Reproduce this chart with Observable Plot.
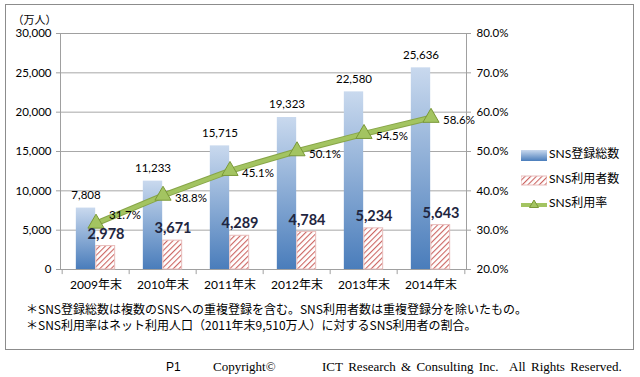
<!DOCTYPE html>
<html><head><meta charset="utf-8">
<script src="https://cdn.jsdelivr.net/npm/d3@7"></script>
<script src="https://cdn.jsdelivr.net/npm/@observablehq/plot@0.6"></script>
<style>
body{margin:0;background:#fff;}
#wrap{position:relative;width:640px;height:377px;overflow:hidden;font-family:Lato,"Noto Sans CJK JP",sans-serif;}
#wrap svg.plot{position:absolute;left:0;top:0;}
.abs{position:absolute;white-space:nowrap;}
#box{position:absolute;left:5px;top:4px;width:629px;height:346px;border:1px solid #8c8c8c;box-sizing:border-box;}
.foot{font-family:"Noto Sans CJK JP",sans-serif;font-size:12px;color:#000;}
.leg{font-family:Lato,"Noto Sans CJK JP",sans-serif;font-size:12px;color:#000;}
</style></head>
<body><div id="wrap"><div id="box"></div></div>
<script>
const years = ["2009年末","2010年末","2011年末","2012年末","2013年末","2014年末"];
const registered = [7808, 11233, 15715, 19323, 22580, 25636];
const users = [2978, 3671, 4289, 4784, 5234, 5643];
const rate = [31.7, 38.8, 45.1, 50.1, 54.5, 58.6];
const leftTicks = [0, 5000, 10000, 15000, 20000, 25000, 30000];
const rightTicks = [20, 30, 40, 50, 60, 70, 80];
const seriesNames = ["SNS登録総数", "SNS利用者数", "SNS利用率"];
const unitLabel = "（万人）";
const notes = ["＊SNS登録総数は複数のSNSへの重複登録を含む。SNS利用者数は重複登録分を除いたもの。",
               "＊SNS利用率はネット利用人口（2011年末9,510万人）に対するSNS利用者の割合。"];

const data = years.map((year, i) => ({year, registered: registered[i], users: users[i], rate: rate[i]}));
const pct = p => (p - 20) * 500;  // map right axis (20%–80%) onto left (0–30,000)
const fmt = d3.format(",");
const bw = 406 / 6;

function defs() {
  const ns = "http://www.w3.org/2000/svg";
  const g = document.createElementNS(ns, "defs");
  g.innerHTML = `
    <linearGradient id="blueGrad" x1="0" y1="0" x2="0" y2="1">
      <stop offset="0" stop-color="#c9d9ee"/>
      <stop offset="1" stop-color="#4a7dbb"/>
    </linearGradient>
    <pattern id="hatch" width="4" height="4" patternUnits="userSpaceOnUse" patternTransform="rotate(45)">
      <rect width="4" height="4" fill="#fff"/>
      <line x1="0" y1="0" x2="0" y2="4" stroke="#cc6663" stroke-width="2.2"/>
    </pattern>`;
  return g;
}

const chart = Plot.plot({
  width: 640, height: 377,
  marginLeft: 60, marginRight: 174, marginTop: 33, marginBottom: 108,
  style: {fontFamily: 'Lato, "Noto Sans CJK JP", sans-serif', fontSize: "11.5px", color: "#000", background: "transparent"},
  x: {domain: years, padding: 0, axis: null},
  y: {domain: [0, 30000], axis: null},
  marks: [
    defs,
    Plot.gridY(leftTicks, {stroke: "#a8a8a8", strokeOpacity: 1}),
    Plot.frame({stroke: "#a0a0a0"}),
    Plot.ruleX(years, {x: d => d, dx: -bw / 2, y1: 0, y2: -650, stroke: "#a0a0a0"}),
    Plot.ruleX(years.slice(-1), {x: d => d, dx: bw / 2, y1: 0, y2: -650, stroke: "#a0a0a0"}),
    Plot.axisY(leftTicks, {anchor: "left", tickFormat: fmt, tickSize: 4, tickPadding: 5, stroke: "#a0a0a0", fontSize: 11.5, label: null}),
    Plot.axisY(rightTicks.map(pct), {anchor: "right", tickFormat: v => (v / 500 + 20).toFixed(1) + "%", tickSize: 4, tickPadding: 6, stroke: "#a0a0a0", fontSize: 11.5, label: null}),
    Plot.axisX(years, {anchor: "bottom", tickSize: 0, tickPadding: 11, fontSize: 12, label: null}),
    Plot.barY(data, {x: "year", y: "registered", fill: "url(#blueGrad)", insetLeft: bw / 2 - 20, insetRight: bw / 2}),
    Plot.barY(data, {x: "year", y: "users", fill: "url(#hatch)", stroke: "#e8bcbb", strokeWidth: 1, insetLeft: bw / 2, insetRight: bw / 2 - 19.5}),
    Plot.line(data, {x: "year", y: d => pct(d.rate), stroke: "#87a548", strokeWidth: 6}),
    Plot.line(data, {x: "year", y: d => pct(d.rate), stroke: "#a3c461", strokeWidth: 4}),
    Plot.dot(data, {x: "year", y: d => pct(d.rate), symbol: "triangle", r: 6, fill: "#a3c461", stroke: "#7a9838", strokeWidth: 1}),
    Plot.text(data, {x: "year", y: "registered", text: d => fmt(d.registered), dx: -10, dy: -13, fontSize: 11.5, fill: "#000"}),
    Plot.text(data, {x: "year", y: "users", text: d => fmt(d.users), dx: 10, dy: -12, fontSize: 14.5, fontWeight: "bold", fill: "#1f2640"}),
    Plot.text(data.slice(0, 1), {x: "year", y: d => pct(d.rate), text: d => d.rate.toFixed(1) + "%", textAnchor: "start", dx: 13, dy: -8, fontSize: 11.5, fill: "#000"}),
    Plot.text(data.slice(1), {x: "year", y: d => pct(d.rate), text: d => d.rate.toFixed(1) + "%", textAnchor: "start", dx: 12, dy: 3, fontSize: 11.5, fill: "#000"}),
    Plot.text([unitLabel], {frameAnchor: "top-left", text: d => d, dx: -48, dy: -17, fontSize: 11, fill: "#000"})
  ]
});
chart.classList.add("plot");
const wrap = document.getElementById("wrap");
wrap.appendChild(chart);

function add(html, style, cls) {
  const d = document.createElement("div");
  d.className = "abs " + (cls || "");
  d.style.cssText = style;
  d.innerHTML = html;
  wrap.appendChild(d);
}
// legend
add(`<svg width="26" height="12" style="vertical-align:middle"><defs><linearGradient id="lg1" x1="0" y1="0" x2="0" y2="1"><stop offset="0" stop-color="#c9d9ee"/><stop offset="1" stop-color="#4a7dbb"/></linearGradient></defs><rect x="0" y="1" width="26" height="11" fill="url(#lg1)"/></svg>` + `<span style="margin-left:2px">${seriesNames[0]}</span>`, "left:521px;top:144px;", "leg");
add(`<svg width="26" height="12" style="vertical-align:middle"><rect x="0" y="2" width="26" height="9" fill="url(#hatch)" stroke="#e8bcbb"/></svg>` + `<span style="margin-left:2px">${seriesNames[1]}</span>`, "left:521px;top:169px;", "leg");
add(`<svg width="26" height="12" style="vertical-align:middle"><line x1="0" x2="26" y1="7" y2="7" stroke="#a3c461" stroke-width="4"/><path d="M13,2 L17.5,9.5 L8.5,9.5 Z" fill="#a3c461" stroke="#7a9838"/></svg>` + `<span style="margin-left:2px">${seriesNames[2]}</span>`, "left:521px;top:193px;", "leg");
// notes
add(notes[0], "left:26px;top:300px;", "foot");
add(notes[1], "left:26px;top:316px;", "foot");
// copyright
add("P1", "left:166px;top:360px;font-family:'Liberation Sans',Arial,sans-serif;font-size:12px;");
add("Copyright©", "left:213px;top:359px;font-family:'Liberation Serif',serif;font-size:13px;");
add("ICT&nbsp;Research &amp; Consulting Inc. &nbsp;All Rights Reserved.", "left:322px;top:359px;font-family:'Liberation Serif',serif;font-size:13px;word-spacing:2px;");
</script></body></html>
